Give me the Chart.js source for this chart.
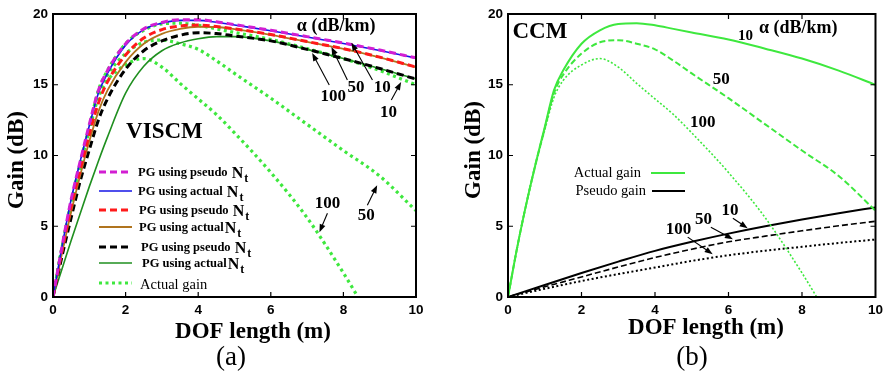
<!DOCTYPE html>
<html lang="en">
<head>
<meta charset="UTF-8">
<title>Gain vs DOF length</title>
<script src="https://cdn.jsdelivr.net/npm/chart.js"></script>
<style>
    html, body { margin: 0; padding: 0; background: #fff; }
    .wrap { position: relative; width: 888px; height: 375px; }
    .panel { position: absolute; top: 0; width: 444px; height: 375px; }
    #panelA { left: 0; }
    #panelB { left: 444px; }
</style>
</head>
<body>
<div class="wrap">
    <div class="panel" id="panelA"><canvas id="chartA"></canvas></div>
    <div class="panel" id="panelB"><canvas id="chartB"></canvas></div>
</div>

<script>
// --- data (x = DOF length in m, y = gain in dB) ---
const dofPG = [0, 0.25, 0.5, 0.75, 1, 1.25, 1.5, 2, 2.5, 3, 3.5, 4, 4.5, 5, 6, 7, 8, 9, 10];
const pgPseudo10  = [0, 3.6, 6.9, 9.6, 12.2, 14.6, 16.0, 17.9, 18.95, 19.4, 19.6, 19.6, 19.45, 19.25, 18.85, 18.4, 17.95, 17.45, 16.9];
const pgActual10  = [0, 3.6, 6.9, 9.6, 12.1, 14.4, 15.8, 17.8, 18.9, 19.35, 19.55, 19.55, 19.42, 19.22, 18.82, 18.38, 17.92, 17.42, 16.88];
const pgPseudo50  = [0, 3.3, 6.4, 9.0, 11.5, 13.7, 15.2, 17.1, 18.3, 18.9, 19.15, 19.22, 19.12, 18.95, 18.55, 18.05, 17.55, 16.95, 16.25];
const pgActual50  = [0, 3.1, 6.0, 8.6, 11.0, 13.1, 14.6, 16.6, 17.9, 18.6, 18.95, 19.1, 19.08, 18.93, 18.53, 18.03, 17.53, 16.93, 16.23];
const pgPseudo100 = [0, 2.9, 5.6, 8.2, 10.4, 12.5, 14.0, 16.1, 17.4, 18.1, 18.5, 18.67, 18.62, 18.45, 18.1, 17.5, 16.85, 16.15, 15.4];
const pgActual100 = [0, 2.0, 4.0, 5.9, 7.8, 9.6, 11.3, 14.4, 16.3, 17.4, 17.95, 18.25, 18.4, 18.4, 18.1, 17.5, 16.85, 16.15, 15.4];

const dofActual = [0, 0.25, 0.5, 0.75, 1, 1.25, 1.5, 2, 2.5, 3, 3.5, 4, 4.5, 5, 6, 7, 8, 9, 10];
const actual10 = [0, 3.5, 6.6, 9.4, 12.0, 14.6, 16.0, 17.9, 18.85, 19.3, 19.35, 19.2, 18.95, 18.7, 18.2, 17.55, 16.85, 16.0, 15.0];
const actual50 = [0, 3.5, 6.6, 9.4, 11.9, 14.4, 15.7, 17.2, 18.0, 18.15, 17.9, 17.5, 16.7, 15.8, 14.05, 12.2, 10.35, 8.55, 6.1];
const dofActual100 = [0, 0.25, 0.5, 0.75, 1, 1.25, 1.5, 2, 2.5, 3, 3.5, 4, 4.5, 5, 6, 7, 8, 8.4];
const actual100 = [0, 3.5, 6.6, 9.3, 11.8, 14.1, 15.3, 16.4, 16.85, 16.25, 15.1, 14.0, 12.9, 11.6, 8.8, 5.6, 1.7, 0];

const dofPseudo = [0, 1, 2, 3, 4, 5, 6, 7, 8, 9, 10];
const pseudo10  = [0, 0.85, 1.7, 2.5, 3.26, 3.9, 4.48, 5.0, 5.47, 5.92, 6.33];
const pseudo50  = [0, 0.72, 1.42, 2.12, 2.79, 3.38, 3.9, 4.3, 4.68, 5.03, 5.35];
const pseudo100 = [0, 0.58, 1.13, 1.62, 2.08, 2.55, 2.95, 3.27, 3.55, 3.82, 4.06];

const xTickValues = [0, 2, 4, 6, 8, 10];
const yTickValues = [0, 5, 10, 15, 20];

// --- styles ---
const SERIF = '"Liberation Serif", "Times New Roman", serif';
const SANS = '"Liberation Sans", Arial, sans-serif';
const GREEN = '#3ee83e';

const stPseudo10  = { color: '#d21ed2', width: 3, dash: [7, 4] };
const stActual10  = { color: '#1414e6', width: 1.6 };
const stPseudo50  = { color: '#ff1a1a', width: 3, dash: [7, 4] };
const stActual50  = { color: '#b0741e', width: 1.8 };
const stPseudo100 = { color: '#000000', width: 3, dash: [7, 4] };
const stActual100 = { color: '#1f8f1f', width: 1.6 };
const stActualDot = { color: GREEN, width: 3.2, dash: [3, 3.5] };

const stB10  = { color: GREEN, width: 2 };
const stB50  = { color: GREEN, width: 2, dash: [6, 3] };
const stB100 = { color: GREEN, width: 1.6, dash: [2, 2] };
const stK10  = { color: '#000', width: 2 };
const stK50  = { color: '#000', width: 1.6, dash: [6, 3] };
const stK100 = { color: '#000', width: 2, dash: [2, 2.5] };

function series(xs, ys) {
    return xs.map((x, i) => ({ x: x, y: ys[i] }));
}

function ds(xs, ys, st) {
    return {
        data: series(xs, ys),
        borderColor: st.color,
        borderWidth: st.width,
        borderDash: st.dash || [],
        pointRadius: 0,
        fill: false,
        cubicInterpolationMode: 'monotone'
    };
}

function baseOptions(yAxisWidth, padRight) {
    const tickFont = { family: SANS, weight: 'bold', size: 13.5 };
    return {
        responsive: true,
        maintainAspectRatio: false,
        animation: false,
        events: [],
        layout: { padding: { left: 0, right: padRight, top: 14, bottom: 0 } },
        plugins: { legend: { display: false }, tooltip: { enabled: false } },
        scales: {
            x: {
                type: 'linear', min: 0, max: 10,
                afterBuildTicks: s => { s.ticks = xTickValues.map(v => ({ value: v })); },
                afterFit: s => { s.height = 78; },
                grid: { display: false, drawTicks: false },
                border: { display: false },
                ticks: { padding: 5, color: '#000', font: tickFont }
            },
            y: {
                type: 'linear', min: 0, max: 20,
                afterBuildTicks: s => { s.ticks = yTickValues.map(v => ({ value: v })); },
                afterFit: s => { s.width = yAxisWidth; },
                grid: { display: false, drawTicks: false },
                border: { display: false },
                ticks: { padding: 5, color: '#000', font: tickFont }
            }
        }
    };
}

// --- drawing helpers ---
function pt(chart, x, y) {
    return [chart.scales.x.getPixelForValue(x), chart.scales.y.getPixelForValue(y)];
}

function drawFrame(chart) {
    const ctx = chart.ctx, a = chart.chartArea;
    ctx.save();
    ctx.strokeStyle = '#000';
    ctx.lineWidth = 2;
    ctx.strokeRect(a.left, a.top, a.right - a.left, a.bottom - a.top);
    ctx.lineWidth = 1.2;
    ctx.beginPath();
    xTickValues.slice(1, -1).forEach(v => {
        const p = chart.scales.x.getPixelForValue(v);
        ctx.moveTo(p, a.bottom); ctx.lineTo(p, a.bottom - 5);
        ctx.moveTo(p, a.top); ctx.lineTo(p, a.top + 5);
    });
    yTickValues.slice(1, -1).forEach(v => {
        const p = chart.scales.y.getPixelForValue(v);
        ctx.moveTo(a.left, p); ctx.lineTo(a.left + 5, p);
        ctx.moveTo(a.right, p); ctx.lineTo(a.right - 5, p);
    });
    ctx.stroke();
    ctx.restore();
}

function label(ctx, txt, x, y, font, align) {
    ctx.font = font;
    ctx.textAlign = align || 'center';
    ctx.textBaseline = 'middle';
    ctx.fillText(txt, x, y);
}

function arrow(ctx, x1, y1, x2, y2) {
    const ang = Math.atan2(y2 - y1, x2 - x1), L = 8, W = 3;
    ctx.lineWidth = 1.1;
    ctx.beginPath();
    ctx.moveTo(x1, y1);
    ctx.lineTo(x2 - Math.cos(ang) * L * 0.7, y2 - Math.sin(ang) * L * 0.7);
    ctx.stroke();
    ctx.beginPath();
    ctx.moveTo(x2, y2);
    ctx.lineTo(x2 - L * Math.cos(ang) + W * Math.sin(ang), y2 - L * Math.sin(ang) - W * Math.cos(ang));
    ctx.lineTo(x2 - L * Math.cos(ang) - W * Math.sin(ang), y2 - L * Math.sin(ang) + W * Math.cos(ang));
    ctx.closePath();
    ctx.fill();
}

function sample(ctx, st, x1, x2, y) {
    ctx.save();
    ctx.strokeStyle = st.color;
    ctx.lineWidth = st.width;
    ctx.setLineDash(st.dash || []);
    ctx.beginPath();
    ctx.moveTo(x1, y); ctx.lineTo(x2, y);
    ctx.stroke();
    ctx.restore();
}

function axisTitles(ctx, xt, yt, tag) {
    label(ctx, 'DOF length (m)', xt[0], xt[1], 'bold 23px ' + SERIF);
    label(ctx, tag[0], tag[1], tag[2], '27px ' + SERIF);
    ctx.save();
    ctx.translate(yt[0], yt[1]);
    ctx.rotate(-Math.PI / 2);
    label(ctx, 'Gain (dB)', 0, 0, 'bold 23px ' + SERIF);
    ctx.restore();
}

// annotation positions (data units)
const notesA = [
    { t: 'VISCM', x: 3.07, y: 11.65, f: 'bold 23px ' },
    { t: 'α (dB/km)', x: 7.8, y: 19.1, f: 'bold 18px ' },
    { t: '100', x: 7.72, y: 14.13, f: 'bold 17px ' },
    { t: '50', x: 8.35, y: 14.77, f: 'bold 17px ' },
    { t: '10', x: 9.07, y: 14.77, f: 'bold 17px ' },
    { t: '10', x: 9.24, y: 13.0, f: 'bold 17px ' },
    { t: '100', x: 7.56, y: 6.63, f: 'bold 17px ' },
    { t: '50', x: 8.63, y: 5.78, f: 'bold 17px ' }
];
const arrowsA = [
    [7.61, 14.98, 7.14, 17.24], [8.11, 15.34, 7.67, 17.67], [8.8, 15.34, 8.22, 17.97],
    [9.32, 13.92, 9.59, 15.19], [7.56, 5.92, 7.34, 4.58], [8.66, 6.49, 8.93, 7.9]
];
const legendA = [
    { st: stPseudo10, y: 172, tx: 138, txt: 'PG using pseudo ' },
    { st: stActual10, y: 191, tx: 138, txt: 'PG using actual ' },
    { st: stPseudo50, y: 210, tx: 139, txt: 'PG using pseudo ' },
    { st: stActual50, y: 227, tx: 139, txt: 'PG using actual' },
    { st: stPseudo100, y: 247, tx: 141, txt: 'PG using pseudo ' },
    { st: stActual100, y: 263, tx: 142, txt: 'PG using actual' }
];

const notesB = [
    { t: 'CCM', x: 0.87, y: 18.73, f: 'bold 23px ' },
    { t: 'α (dB/km)', x: 7.9, y: 19.02, f: 'bold 18px ' },
    { t: '10', x: 6.46, y: 18.45, f: 'bold 15px ' },
    { t: '50', x: 5.8, y: 15.34, f: 'bold 17px ' },
    { t: '100', x: 5.3, y: 12.29, f: 'bold 17px ' },
    { t: '10', x: 6.04, y: 6.14, f: 'bold 17px ' },
    { t: '50', x: 5.32, y: 5.5, f: 'bold 17px ' },
    { t: '100', x: 4.64, y: 4.79, f: 'bold 17px ' }
];
const arrowsB = [
    [6.12, 5.57, 6.52, 4.86], [5.52, 4.93, 6.12, 4.08], [4.89, 4.23, 5.57, 3.03]
];

function drawNotes(chart, notes, arrows) {
    const ctx = chart.ctx;
    notes.forEach(n => {
        const p = pt(chart, n.x, n.y);
        label(ctx, n.t, p[0], p[1], n.f + SERIF);
    });
    arrows.forEach(a => {
        const p1 = pt(chart, a[0], a[1]), p2 = pt(chart, a[2], a[3]);
        arrow(ctx, p1[0], p1[1], p2[0], p2[1]);
    });
}

const decoA = {
    id: 'decoA',
    afterDatasetsDraw(chart) {
        const ctx = chart.ctx;
        drawFrame(chart);
        ctx.save();
        ctx.fillStyle = '#000';
        ctx.strokeStyle = '#000';
        axisTitles(ctx, [253, 332], [17, 160], ['(a)', 231, 358]);
        drawNotes(chart, notesA, arrowsA);
        legendA.forEach(r => {
            sample(ctx, r.st, 99, 132, r.y);
            ctx.textBaseline = 'alphabetic';
            ctx.textAlign = 'left';
            ctx.font = 'bold 12.5px ' + SERIF;
            ctx.fillText(r.txt, r.tx, r.y + 4);
            let x = r.tx + ctx.measureText(r.txt).width + 1;
            ctx.font = 'bold 16px ' + SERIF;
            ctx.fillText('N', x, r.y + 6);
            x += ctx.measureText('N').width + 1;
            ctx.font = 'bold 12px ' + SERIF;
            ctx.fillText('t', x, r.y + 10);
        });
        sample(ctx, stActualDot, 99, 132, 283);
        label(ctx, 'Actual gain', 140, 285, '14.5px ' + SERIF, 'left');
        ctx.restore();
    }
};

const decoB = {
    id: 'decoB',
    afterDatasetsDraw(chart) {
        const ctx = chart.ctx;
        drawFrame(chart);
        ctx.save();
        ctx.fillStyle = '#000';
        ctx.strokeStyle = '#000';
        axisTitles(ctx, [262, 328], [30, 150], ['(b)', 248, 358]);
        drawNotes(chart, notesB, arrowsB);
        label(ctx, 'Actual gain', 197, 173, '14.5px ' + SERIF, 'right');
        sample(ctx, stB10, 207, 241, 173);
        label(ctx, 'Pseudo gain', 202, 191, '14.5px ' + SERIF, 'right');
        sample(ctx, stK10, 208, 241, 191);
        ctx.restore();
    }
};

new Chart(document.getElementById('chartA'), {
    type: 'line',
    data: {
        datasets: [
            ds(dofPG, pgPseudo10, stPseudo10),
            ds(dofPG, pgActual10, stActual10),
            ds(dofPG, pgPseudo50, stPseudo50),
            ds(dofPG, pgActual50, stActual50),
            ds(dofPG, pgPseudo100, stPseudo100),
            ds(dofPG, pgActual100, stActual100),
            ds(dofActual, actual10, stActualDot),
            ds(dofActual, actual50, stActualDot),
            ds(dofActual100, actual100, stActualDot)
        ]
    },
    options: baseOptions(53, 28),
    plugins: [decoA]
});

new Chart(document.getElementById('chartB'), {
    type: 'line',
    data: {
        datasets: [
            ds(dofActual, actual10, stB10),
            ds(dofActual, actual50, stB50),
            ds(dofActual100, actual100, stB100),
            ds(dofPseudo, pseudo10, stK10),
            ds(dofPseudo, pseudo50, stK50),
            ds(dofPseudo, pseudo100, stK100)
        ]
    },
    options: baseOptions(64, 11),
    plugins: [decoB]
});
</script>
</body>
</html>
